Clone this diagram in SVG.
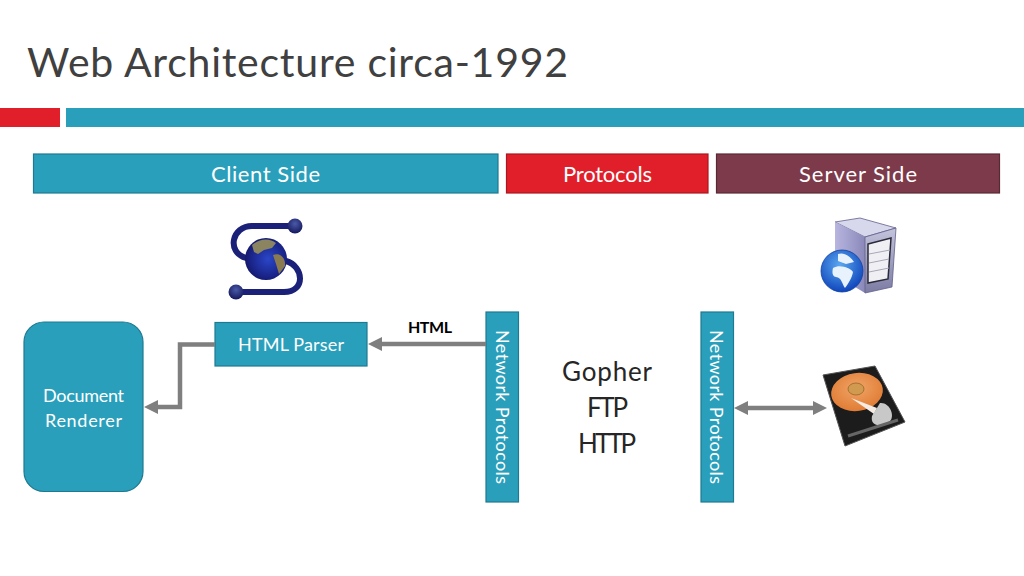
<svg xmlns="http://www.w3.org/2000/svg" width="1024" height="576" viewBox="0 0 1024 576">
<style>
text{font-family:"Lato","Open Sans","Liberation Sans",sans-serif;text-anchor:middle}
.teal{fill:#2a9fbc;stroke:#1f7a91;stroke-width:1.2}
.w{fill:#fff}
.conn{fill:none;stroke:#7f7f7f;stroke-width:4.5}
.ah{fill:#7f7f7f}
</style>
<defs>
<radialGradient id="globeS" cx="0.55" cy="0.5" r="0.6"><stop offset="0" stop-color="#2a46c8"/><stop offset="0.7" stop-color="#1a2488"/><stop offset="1" stop-color="#10145c"/></radialGradient>
<radialGradient id="ball" cx="0.5" cy="0.35" r="0.65"><stop offset="0" stop-color="#4a5aa8"/><stop offset="1" stop-color="#14185c"/></radialGradient>
<radialGradient id="globeB" cx="0.45" cy="0.35" r="0.7"><stop offset="0" stop-color="#5aa8f0"/><stop offset="1" stop-color="#0a3fb8"/></radialGradient>
<linearGradient id="case" x1="0" y1="0" x2="1" y2="0"><stop offset="0" stop-color="#b8b6e0"/><stop offset="1" stop-color="#8a88b8"/></linearGradient>
<linearGradient id="front" x1="0" y1="0" x2="0" y2="1"><stop offset="0" stop-color="#c4c4dc"/><stop offset="1" stop-color="#7c7ca4"/></linearGradient>
<radialGradient id="platter" cx="0.5" cy="0.4" r="0.6"><stop offset="0" stop-color="#f0a468"/><stop offset="1" stop-color="#e07c34"/></radialGradient>
</defs>
<text x="27" y="77" font-size="41" fill="#404040" textLength="541" lengthAdjust="spacing" style="text-anchor:start">Web Architecture circa-1992</text>
<rect x="0" y="108" width="60" height="19" fill="#e01f2b"/>
<rect x="66" y="108" width="958" height="19" fill="#2a9fbc"/>
<g id="client-side"><rect class="teal" x="33.500" y="154" width="464.500" height="39"/><text class="w" x="211" y="182" font-size="22" textLength="109" style="text-anchor:start">Client Side</text></g>
<g id="protocols"><rect x="506.500" y="154" width="201.500" height="39" fill="#e01f2b" stroke="#a81820" stroke-width="1.200"/><text class="w" x="563" y="182" font-size="22" textLength="89" style="text-anchor:start">Protocols</text></g>
<g id="server-side"><rect x="716.500" y="154" width="283" height="39" fill="#7d3a4a" stroke="#5a2834" stroke-width="1.200"/><text class="w" x="799" y="182" font-size="22" textLength="118" style="text-anchor:start">Server Side</text></g>
<g id="client-icon">
<path d="M294 226H252C232 226 226 252 246 258M286 261C304 266 306 292 284 292H238" fill="none" stroke="#1b2178" stroke-width="6" stroke-linecap="round"/>
<circle cx="295" cy="226" r="7.500" fill="url(#ball)"/>
<circle cx="236" cy="292" r="7.500" fill="url(#ball)"/>
<circle cx="266" cy="259" r="21" fill="url(#globeS)"/>
<path d="M252 245C260 238 270 238 276 243L272 248L264 250L258 254L254 252Z" fill="#8a8460"/>
<path d="M273 255C280 252 286 258 285 266L279 274L276 264Z" fill="#8a7a50"/>
</g>
<g id="server-icon">
<path d="M835 222L860 218L896 228L865 237Z" fill="#d8d8ec" stroke="#60608c" stroke-width="0.800"/>
<path d="M835 222L865 237V293L835 275Z" fill="url(#case)"/>
<path d="M865 237L896 228L892 287L865 293Z" fill="url(#front)" stroke="#60608c" stroke-width="0.800"/>
<path d="M868 244L891 238L888 279L868 283Z" fill="#f0f0f4" stroke="#2a2a3a" stroke-width="1.500"/>
<path d="M869 254L890 250M869 263L889 259M869 272L889 268" stroke="#a8a8b8" stroke-width="1"/>
<circle cx="842" cy="271" r="21" fill="url(#globeB)" stroke="#1040a0" stroke-width="0.800"/>
<path d="M838 254C844 252 850 256 854 262L846 264L838 261ZM833 268C840 264 850 268 853 272C852 278 848 284 845 288C842 284 842 278 836 277C832 276 832 272 833 268Z" fill="#e8f2fc"/>
</g>
<g id="disk-icon">
<path d="M823 375L875 366L905 422L845 446Z" fill="#1c1c1c" stroke="#555" stroke-width="1"/>
<ellipse cx="857" cy="392" rx="26" ry="19" transform="rotate(-8 857 392)" fill="url(#platter)"/>
<ellipse cx="856" cy="389" rx="8" ry="6" fill="#d09a50" stroke="#a87030"/>
<path d="M851 398L877 408L874 414Z" fill="#f4ece4"/>
<path d="M880 403C890 402 895 416 890 421C880 428 870 426 872 416Z" fill="#c8c8c8"/>
<path d="M848 436L898 420" stroke="#666" stroke-width="3"/>
</g>
<g id="document-renderer"><rect class="teal" x="24" y="322" width="119" height="169.500" rx="20"/><text class="w" font-size="18" style="text-anchor:start"><tspan x="43" y="402" textLength="81">Document</tspan></text><text class="w" font-size="18" x="45" y="427" textLength="77" style="text-anchor:start">Renderer</text></g>
<g id="html-parser"><rect class="teal" x="215" y="322.500" width="152" height="43.500"/><text class="w" x="238" y="351" font-size="18" textLength="106" style="text-anchor:start">HTML Parser</text></g>
<g id="net-left"><rect class="teal" x="486" y="312" width="32.500" height="190"/><text class="w" font-size="18" textLength="154" transform="translate(495.500 330) rotate(90)" style="text-anchor:start">Network Protocols</text></g>
<g id="net-right"><rect class="teal" x="701" y="312" width="32.500" height="190"/><text class="w" font-size="18" textLength="154" transform="translate(709.500 330) rotate(90)" style="text-anchor:start">Network Protocols</text></g>
<g id="protocol-list" fill="#262626" style="text-anchor:start"><text font-size="26" x="562" y="381" textLength="90" style="text-anchor:start">Gopher</text><text font-size="26" x="587" y="417" textLength="41" style="text-anchor:start">FTP</text><text font-size="26" x="578" y="453" textLength="58" style="text-anchor:start">HTTP</text></g>
<g id="connectors">
<path class="conn" d="M486 344H380"/><path class="ah" d="M368 344L382 337V351Z"/>
<path class="conn" d="M215 344.500H180V407H156"/><path class="ah" d="M144 407L158 400V414Z"/>
<path class="conn" d="M746 408H816"/><path class="ah" d="M734 408L748 401V415Z"/><path class="ah" d="M827 408L813 401V415Z"/>
</g>
<text x="408" y="333" font-size="16" font-weight="700" fill="#000" textLength="44" style="text-anchor:start">HTML</text>
</svg>
